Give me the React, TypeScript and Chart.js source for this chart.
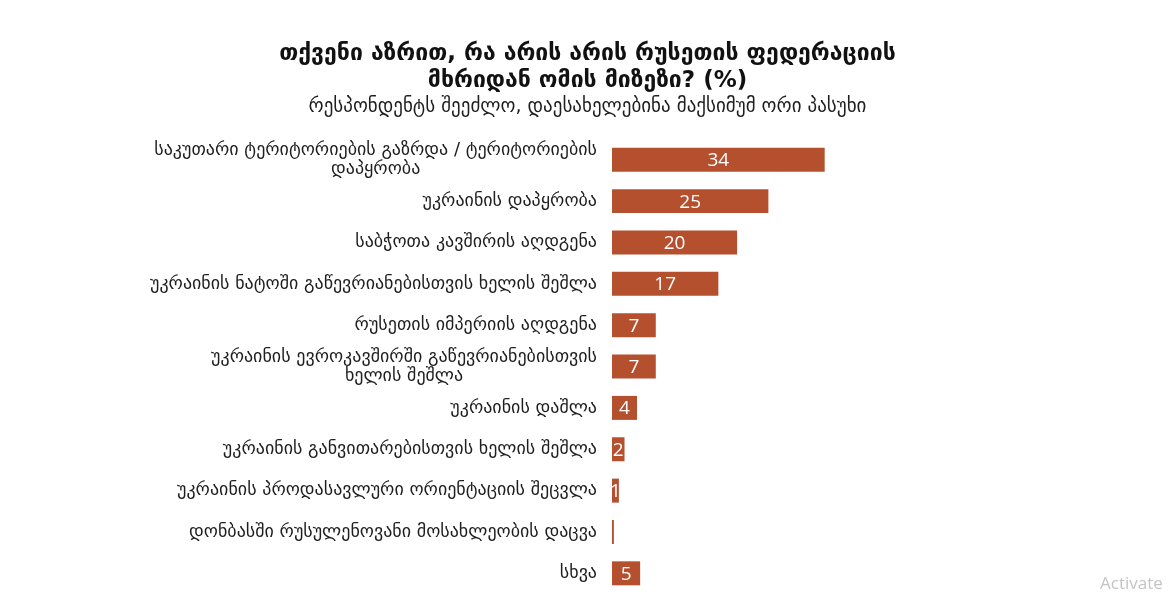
import { useEffect, useRef } from 'react'
import { Chart, registerables } from 'chart.js'

Chart.register(...registerables)

// Data
const categories: string[][] = [
  ['საკუთარი ტერიტორიების გაზრდა / ტერიტორიების', 'დაპყრობა'],
  ['უკრაინის დაპყრობა'],
  ['საბჭოთა კავშირის აღდგენა'],
  ['უკრაინის ნატოში გაწევრიანებისთვის ხელის შეშლა'],
  ['რუსეთის იმპერიის აღდგენა'],
  ['უკრაინის ევროკავშირში გაწევრიანებისთვის', 'ხელის შეშლა'],
  ['უკრაინის დაშლა'],
  ['უკრაინის განვითარებისთვის ხელის შეშლა'],
  ['უკრაინის პროდასავლური ორიენტაციის შეცვლა'],
  ['დონბასში რუსულენოვანი მოსახლეობის დაცვა'],
  ['სხვა'],
]
const values: number[] = [34, 25, 20, 17, 7, 7, 4, 2, 1.1, 0.3, 4.5]
const titleLines: string[] = ['თქვენი აზრით, რა არის არის რუსეთის ფედერაციის', 'მხრიდან ომის მიზეზი? (%)']
const subtitleText = 'რესპონდენტს შეეძლო, დაესახელებინა მაქსიმუმ ორი პასუხი'

const BAR_COLOR = '#B5502F'
const GEO_FONT = '"DejaVu Sans", "Noto Sans", sans-serif'

// draws wrapped category labels and the bar values
const labelPlugin = {
  id: 'labelPlugin',
  afterDatasetsDraw(chart: Chart) {
    const { ctx } = chart
    const yScale = chart.scales.y
    const meta = chart.getDatasetMeta(0)
    ctx.save()

    // category labels: block right-aligned, lines centred in the block
    ctx.font = `18px ${GEO_FONT}`
    ctx.fillStyle = '#1e1e1e'
    ctx.textBaseline = 'middle'
    ctx.textAlign = 'center'
    const lineH = 19
    categories.forEach((lines, i) => {
      const y = yScale.getPixelForValue(i)
      const blockW = Math.max(...lines.map((l) => ctx.measureText(l).width))
      const right = chart.chartArea.left - 15
      const cx = right - blockW / 2
      const y0 = y - ((lines.length - 1) * lineH) / 2
      lines.forEach((l, k) => ctx.fillText(l, cx, y0 + k * lineH))
    })

    // value labels inside bars
    ctx.font = '19px "Open Sans", sans-serif'
    ctx.fillStyle = '#ffffff'
    meta.data.forEach((bar: any, i) => {
      const v = values[i]
      if (v < 0.5) return
      const cx = (bar.x + bar.base) / 2
      ctx.fillText(String(Math.round(v)), cx, bar.y + 1)
    })

    // faint watermark in the corner
    ctx.font = '17px "Open Sans", sans-serif'
    ctx.fillStyle = '#c4c4c4'
    ctx.textAlign = 'left'
    ctx.fillText('Activate', 1100, 584)
    ctx.restore()
  },
}

export default function App() {
  const canvasRef = useRef<HTMLCanvasElement>(null)
  const chartRef = useRef<Chart | null>(null)

  useEffect(() => {
    if (!canvasRef.current) return
    if (chartRef.current) chartRef.current.destroy()

    chartRef.current = new Chart(canvasRef.current, {
      type: 'bar',
      data: {
        labels: categories.map((c) => c.join(' ')),
        datasets: [
          {
            data: values,
            backgroundColor: BAR_COLOR,
            barPercentage: 0.58,
            categoryPercentage: 1,
          },
        ],
      },
      options: {
        indexAxis: 'y',
        responsive: true,
        maintainAspectRatio: false,
        animation: false,
        layout: { padding: { left: 0, right: 0, top: 0, bottom: 0 } },
        plugins: {
          legend: { display: false },
          tooltip: { enabled: false },
          title: {
            display: true,
            text: titleLines,
            color: '#111111',
            font: { family: GEO_FONT, size: 23, weight: 'bold', lineHeight: 1.2 },
            padding: { top: 40, bottom: 1 },
          },
          subtitle: {
            display: true,
            text: subtitleText,
            color: '#1e1e1e',
            font: { family: GEO_FONT, size: 19, lineHeight: 1.1 },
            padding: { top: 0, bottom: 22 },
          },
        },
        scales: {
          x: {
            display: false,
            min: 0,
            max: 90,
          },
          y: {
            grid: { display: false },
            border: { display: false },
            ticks: { display: false },
            afterFit(scale: any) {
              scale.width = 612
            },
          },
        },
      },
      plugins: [labelPlugin],
    })

    return () => {
      if (chartRef.current) {
        chartRef.current.destroy()
        chartRef.current = null
      }
    }
  }, [])

  return (
    <div style={{ position: 'fixed', left: 0, top: 0, width: 1175, height: 594, background: '#fff' }}>
      <canvas ref={canvasRef}></canvas>
    </div>
  )
}
